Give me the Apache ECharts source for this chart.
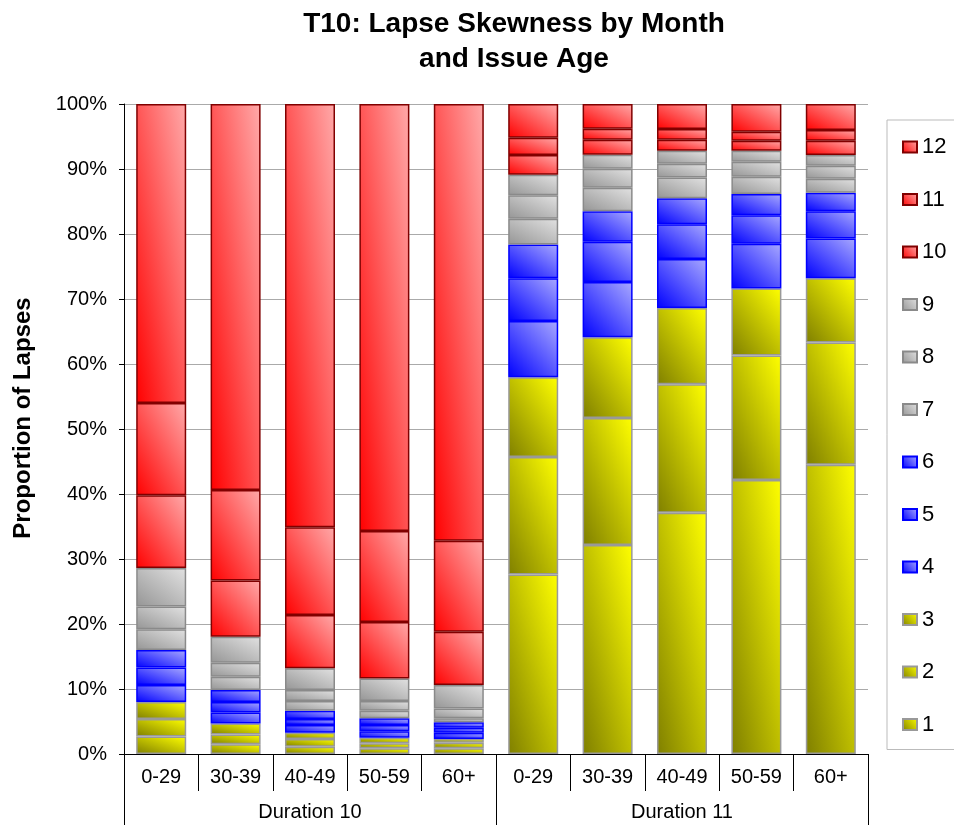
<!DOCTYPE html>
<html>
<head>
<meta charset="utf-8">
<script src="https://cdn.jsdelivr.net/npm/echarts@6/dist/echarts.min.js"></script>
<style>html,body{margin:0;padding:0;background:#fff}#c{width:954px;height:825px}</style>
</head>
<body>
<div id="c"></div>
<script>
// Categories
var ageBands = ['0-29','30-39','40-49','50-59','60+','0-29','30-39','40-49','50-59','60+'];
var durations = ['Duration 10','Duration 11'];
var yTicks = [0,10,20,30,40,50,60,70,80,90,100];
// Series values (% of lapses by month), per bar: D10 0-29..60+, D11 0-29..60+
var m1  = [2.7, 1.5, 1.12, 0.88, 0.88, 27.6, 32.15, 37.1, 42.15, 44.5];
var m2  = [2.7, 1.5, 1.18, 0.77, 0.86, 18.1, 19.55, 19.8, 19.15, 18.8];
var m3  = [2.6, 1.7, 0.98, 0.85, 0.56, 12.25, 12.4, 11.7, 10.3, 9.9];
var m4  = [2.6, 1.7, 1.18, 1.0, 0.98, 8.65, 8.5, 7.55, 6.9, 6.1];
var m5  = [2.7, 1.6, 0.92, 0.96, 0.77, 6.6, 6.2, 5.35, 4.4, 4.2];
var m6  = [2.7, 1.85, 1.28, 1.04, 0.85, 5.2, 4.7, 4.0, 3.25, 2.85];
var m7  = [3.2, 2.05, 1.49, 1.16, 0.6, 3.95, 3.6, 3.2, 2.65, 2.15];
var m8  = [3.5, 2.15, 1.7, 1.49, 1.5, 3.6, 2.95, 2.1, 2.3, 2.0];
var m9  = [5.9, 4.0, 3.35, 3.45, 3.6, 3.15, 2.15, 2.0, 1.7, 1.65];
var m10 = [11.2, 8.65, 8.2, 8.7, 8.2, 3.05, 2.3, 1.7, 1.55, 2.2];
var m11 = [14.2, 13.9, 13.5, 14.0, 14.0, 2.65, 1.7, 1.65, 1.4, 1.65];
var m12 = [46.0, 59.4, 65.1, 65.7, 67.2, 5.2, 3.8, 3.85, 4.25, 4.0];
var monthNames = ['1','2','3','4','5','6','7','8','9','10','11','12'];
var monthData = [m1,m2,m3,m4,m5,m6,m7,m8,m9,m10,m11,m12];

var FONT = '"Liberation Sans", Arial, sans-serif';
var BAR_W = 50;
var palette = {
  yellow:{dark:'#7f7f00', light:'#ffff00', border:'#999999'},
  blue:{dark:'#0000ff', light:'#aaaaff', border:'#0000ff'},
  gray:{dark:'#959595', light:'#e2e2e2', border:'#8a8a8a'},
  red:{dark:'#ff0000', light:'#ffaaaa', border:'#800000'}
};
function palFor(i){
  if(i<3) return palette.yellow;
  if(i<6) return palette.blue;
  if(i<9) return palette.gray;
  return palette.red;
}
// diagonal gradient: colour constant along the top-left -> bottom-right diagonal
function diagGrad(p, w, h){
  var d = h*h + w*w;
  var x2 = d ? 2*h*h/d : 1, y2 = d ? 1 - 2*w*w/d : 0;
  return {type:'linear', x:0, y:1, x2:x2, y2:y2,
    colorStops:[{offset:0,color:p.dark},{offset:1,color:p.light}]};
}
function simpleGrad(p){
  return {type:'linear', x:0, y:1, x2:1, y2:0,
    colorStops:[{offset:0,color:p.dark},{offset:1,color:p.light}]};
}
function buildSeries(pxPerUnit){
  return monthData.map(function(d,i){
    var p = palFor(i);
    return {
      name: monthNames[i], type:'bar', stack:'all', xAxisIndex:0,
      barWidth: BAR_W,
      data: d.map(function(v){
        return pxPerUnit ? {value:v, itemStyle:{color:diagGrad(p, BAR_W, v*pxPerUnit)}} : v;
      }),
      itemStyle:{color:simpleGrad(p), borderColor:p.border, borderWidth:1.5},
      emphasis:{disabled:true}
    };
  });
}

var chart = echarts.init(document.getElementById('c'), null, {renderer:'canvas'});
chart.setOption({
  animation:false,
  backgroundColor:'#ffffff',
  title:{
    text:'T10: Lapse Skewness by Month\nand Issue Age',
    left:509, textAlign:'center', top:2,
    textStyle:{fontFamily:FONT, fontSize:28, fontWeight:'bold', color:'#000', lineHeight:35}
  },
  legend:{
    orient:'vertical', left:887, top:120,
    data: monthNames.slice().reverse(),
    icon:'rect', itemWidth:14, itemHeight:11, itemGap:30.5,
    padding:[16,40,14,15],
    borderColor:'#bbbbbb', borderWidth:1,
    textStyle:{fontFamily:FONT, fontSize:22, color:'#000', lineHeight:22},
    selectedMode:false
  },
  grid:{left:124, right:86, top:104, bottom:71},
  xAxis:[{
    type:'category', data:ageBands, position:'bottom',
    axisLine:{show:true, lineStyle:{color:'#000', width:1}},
    axisTick:{show:true, length:37, interval:0, lineStyle:{color:'#000'}},
    axisLabel:{interval:0, margin:13, fontFamily:FONT, fontSize:20, color:'#000'},
    splitLine:{show:false}
  },{
    type:'category', data:durations, position:'bottom',
    axisLine:{show:false},
    axisTick:{show:true, length:71, interval:0, lineStyle:{color:'#000'}},
    axisLabel:{interval:0, margin:48, fontFamily:FONT, fontSize:20, color:'#000'},
    splitLine:{show:false}
  }],
  yAxis:{
    type:'value', min:yTicks[0], max:yTicks[yTicks.length-1], interval:10,
    name:'Proportion of Lapses', nameLocation:'middle', nameGap:89,
    nameTextStyle:{fontFamily:FONT, fontSize:24, fontWeight:'bold', color:'#000', padding:[0,0,0,22]},
    axisLine:{show:true, lineStyle:{color:'#000'}},
    axisTick:{show:true, length:5, lineStyle:{color:'#000'}},
    axisLabel:{formatter:'{value}%', margin:17, fontFamily:FONT, fontSize:20, color:'#000'},
    splitLine:{show:true, lineStyle:{color:'#aaaaaa', width:1}}
  },
  series: buildSeries(0)
});
var pxPerUnit = Math.abs(chart.convertToPixel({yAxisIndex:0}, 0) - chart.convertToPixel({yAxisIndex:0}, 1));
chart.setOption({series: buildSeries(pxPerUnit)});
</script>
</body>
</html>
